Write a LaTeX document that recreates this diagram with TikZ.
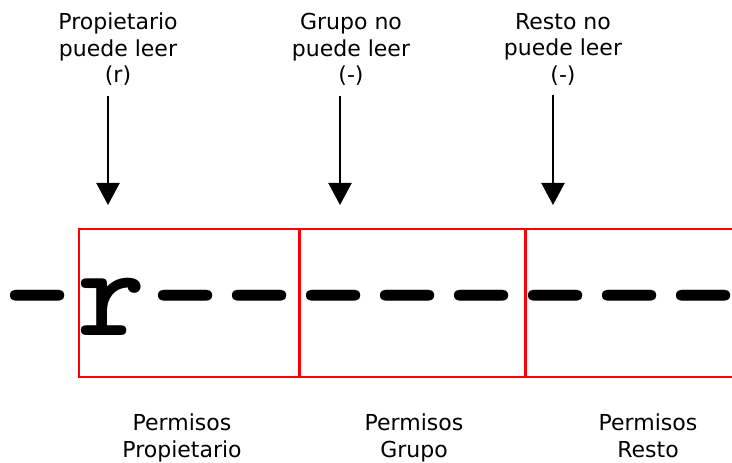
\documentclass[tikz,border=0pt]{standalone}
\usepackage{fontspec}
\setsansfont{DejaVu Sans}
\usetikzlibrary{arrows.meta}

\begin{document}
\begin{tikzpicture}[
      x = 1pt, y = 1pt,
      caption/.style = {font=\sffamily\fontsize{22}{26.5}\selectfont, align=center, inner sep=0pt, anchor=north},
      cell/.style = {draw=red, line width=1.6pt, minimum height=148pt, inner sep=0pt, anchor=north west},
      glyph/.style = {font=\ttfamily\bfseries\fontsize{130}{130}\selectfont, inner sep=0pt, anchor=base},
      pointer/.style = {line width=2.2pt, -{Triangle[length=22pt, width=23pt]}}
      ]
      \useasboundingbox (0,0) rectangle (732,463);
      % boxes for owner, group and rest
      \node[cell, minimum width=220pt] (own) at (78,235) {};
      \node[cell, minimum width=224pt] (grp) at (own.north east) {};
      \node[cell, minimum width=240pt] (oth) at (grp.north east) {};
      % the permission string
      \foreach \c [count=\i from 0] in {-,r,-,-,-,-,-,-,-,-}
        \node[glyph] (ch\i) at (38+74*\i, 127) {\c};
      % what each class may do
      \node[caption] (lblown) at (118, 450) {Propietario\\puede leer\\(r)};
      \node[caption] (lblgrp) at (351, 450) {Grupo no\\puede leer\\(-)};
      \node[caption] (lbloth) at (563, 450) {Resto no\\puede leer\\(-)};
      \coordinate (tipown) at (108, 258);
      \coordinate (tipgrp) at (340, 258);
      \coordinate (tipoth) at (553, 258);
      \draw[pointer] ([yshift=-10pt]lblown.south -| tipown) -- (tipown);
      \draw[pointer] ([yshift=-10pt]lblgrp.south -| tipgrp) -- (tipgrp);
      \draw[pointer] ([yshift=-10pt]lbloth.south -| tipoth) -- (tipoth);
      % names of the boxes
      \node[caption] (capown) at (182, 49) {Permisos\\Propietario};
      \node[caption] (capgrp) at (414, 49) {Permisos\\Grupo};
      \node[caption] (capoth) at (648, 49) {Permisos\\Resto};
    \end{tikzpicture}
\end{document}
